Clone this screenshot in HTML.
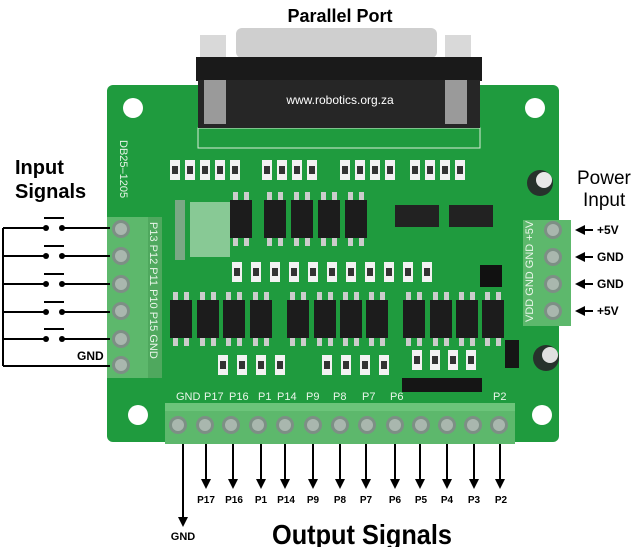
<!DOCTYPE html>
<html><head><meta charset="utf-8"><style>
html,body{margin:0;padding:0;background:#fff;}
svg{display:block;font-family:"Liberation Sans",Arial,sans-serif;}
</style></head><body>
<svg width="640" height="547" viewBox="0 0 640 547" xmlns="http://www.w3.org/2000/svg">
<defs>
<marker id="ah" markerWidth="10" markerHeight="10" refX="5" refY="5" orient="auto" markerUnits="userSpaceOnUse"><path d="M0,0 L10,5 L0,10 z" fill="#000"/></marker>
<g id="chip"><rect x="0" y="0" width="22" height="38" fill="#1c1c1c"/><rect x="3" y="-8" width="5" height="8" fill="#ccc"/><rect x="14" y="-8" width="5" height="8" fill="#ccc"/><rect x="3" y="38" width="5" height="8" fill="#ccc"/><rect x="14" y="38" width="5" height="8" fill="#ccc"/></g>
<g id="res"><rect x="0" y="0" width="10" height="20" fill="#f2f2f2"/><rect x="2" y="6" width="6" height="8" fill="#333"/></g>
<g id="scr"><circle r="9" fill="#7d8f85"/><circle r="6" fill="#a9b7ae"/></g>
</defs>

<text x="340" y="22" font-size="18" font-weight="bold" text-anchor="middle">Parallel Port</text>

<rect x="107" y="85" width="452" height="357" rx="6" fill="#1f9b3e"/>
<circle cx="133" cy="108" r="10" fill="#fff"/><circle cx="535" cy="108" r="10" fill="#fff"/>
<circle cx="138" cy="415" r="10" fill="#fff"/><circle cx="542" cy="415" r="10" fill="#fff"/>
<rect x="198" y="128" width="282" height="20" fill="none" stroke="#d8eed8" stroke-width="1"/>
<text x="120" y="140" font-size="11" fill="#e8f4e8" transform="rotate(90 120 140)">DB25–1205</text>

<rect x="236" y="28" width="201" height="30" rx="6" fill="#cfcfcf"/>
<rect x="200" y="35" width="26" height="22" fill="#d9d9d9"/><rect x="445" y="35" width="26" height="22" fill="#d9d9d9"/>
<rect x="196" y="57" width="286" height="24" fill="#1a1a1a"/>
<rect x="198" y="80" width="282" height="48" fill="#262626"/>
<rect x="204" y="80" width="22" height="44" fill="#9a9a9a"/><rect x="445" y="80" width="22" height="44" fill="#9a9a9a"/>
<text x="340" y="104" font-size="12" fill="#fff" text-anchor="middle">www.robotics.org.za</text>

<g>
<use href="#res" x="170" y="160"/><use href="#res" x="185" y="160"/><use href="#res" x="200" y="160"/><use href="#res" x="215" y="160"/><use href="#res" x="230" y="160"/>
<use href="#res" x="262" y="160"/><use href="#res" x="277" y="160"/><use href="#res" x="292" y="160"/><use href="#res" x="307" y="160"/>
<use href="#res" x="340" y="160"/><use href="#res" x="355" y="160"/><use href="#res" x="370" y="160"/><use href="#res" x="385" y="160"/>
<use href="#res" x="410" y="160"/><use href="#res" x="425" y="160"/><use href="#res" x="440" y="160"/><use href="#res" x="455" y="160"/>
<use href="#res" x="232" y="262"/><use href="#res" x="251" y="262"/><use href="#res" x="270" y="262"/><use href="#res" x="289" y="262"/><use href="#res" x="308" y="262"/><use href="#res" x="327" y="262"/><use href="#res" x="346" y="262"/><use href="#res" x="365" y="262"/><use href="#res" x="384" y="262"/><use href="#res" x="403" y="262"/><use href="#res" x="422" y="262"/>
<use href="#res" x="218" y="355"/><use href="#res" x="237" y="355"/><use href="#res" x="256" y="355"/><use href="#res" x="275" y="355"/>
<use href="#res" x="322" y="355"/><use href="#res" x="341" y="355"/><use href="#res" x="360" y="355"/><use href="#res" x="379" y="355"/>
<use href="#res" x="412" y="350"/><use href="#res" x="430" y="350"/><use href="#res" x="448" y="350"/><use href="#res" x="466" y="350"/>
</g>
<rect x="175" y="200" width="10" height="60" fill="#7aa884"/>
<rect x="190" y="202" width="40" height="55" fill="#cfe8d0" opacity="0.6"/>

<use href="#chip" x="230" y="200"/><use href="#chip" x="264" y="200"/><use href="#chip" x="291" y="200"/><use href="#chip" x="318" y="200"/><use href="#chip" x="345" y="200"/>
<rect x="395" y="205" width="44" height="22" fill="#222"/><rect x="449" y="205" width="44" height="22" fill="#222"/>
<use href="#chip" x="170" y="300"/><use href="#chip" x="197" y="300"/><use href="#chip" x="223" y="300"/><use href="#chip" x="250" y="300"/>
<use href="#chip" x="287" y="300"/><use href="#chip" x="314" y="300"/><use href="#chip" x="340" y="300"/><use href="#chip" x="366" y="300"/>
<use href="#chip" x="403" y="300"/><use href="#chip" x="430" y="300"/><use href="#chip" x="456" y="300"/><use href="#chip" x="482" y="300"/>
<rect x="480" y="265" width="22" height="22" fill="#111"/>
<rect x="402" y="378" width="80" height="14" fill="#151515"/>
<rect x="505" y="340" width="14" height="28" fill="#151515"/>
<circle cx="540" cy="183" r="13" fill="#27322c"/><circle cx="544" cy="180" r="8" fill="#e8e8e8"/>
<circle cx="546" cy="358" r="13" fill="#27322c"/><circle cx="550" cy="355" r="8" fill="#e0e0e0"/>

<rect x="107" y="217" width="55" height="161" fill="#5db86c"/>
<rect x="148" y="217" width="14" height="161" fill="#4fa85e"/>
<use href="#scr" x="121" y="229"/><use href="#scr" x="121" y="256"/><use href="#scr" x="121" y="284"/><use href="#scr" x="121" y="311"/><use href="#scr" x="121" y="339"/><use href="#scr" x="121" y="365"/>
<text transform="translate(150,222) rotate(90)" font-size="11" fill="#eaf6ea">P13 P12 P11 P10 P15 GND</text>

<rect x="523" y="220" width="48" height="106" fill="#5db86c"/>
<use href="#scr" x="553" y="230"/><use href="#scr" x="553" y="257"/><use href="#scr" x="553" y="284"/><use href="#scr" x="553" y="311"/>
<text transform="translate(533,322) rotate(-90)" font-size="11" fill="#eaf6ea">VDD GND GND +5V</text>

<rect x="165" y="403" width="350" height="41" fill="#5db86c"/>
<rect x="165" y="403" width="350" height="8" fill="#6cc47a"/>
<use href="#scr" x="178" y="425"/><use href="#scr" x="205" y="425"/><use href="#scr" x="231" y="425"/><use href="#scr" x="258" y="425"/><use href="#scr" x="285" y="425"/><use href="#scr" x="313" y="425"/><use href="#scr" x="340" y="425"/><use href="#scr" x="367" y="425"/><use href="#scr" x="395" y="425"/><use href="#scr" x="421" y="425"/><use href="#scr" x="447" y="425"/><use href="#scr" x="473" y="425"/><use href="#scr" x="499" y="425"/>
<g font-size="11" fill="#eaf6ea"><text x="176" y="400">GND</text><text x="204" y="400">P17</text><text x="229" y="400">P16</text><text x="258" y="400">P1</text><text x="277" y="400">P14</text><text x="306" y="400">P9</text><text x="333" y="400">P8</text><text x="362" y="400">P7</text><text x="390" y="400">P6</text><text x="493" y="400">P2</text></g>

<text x="15" y="174" font-size="20" font-weight="bold">Input</text>
<text x="15" y="198" font-size="20" font-weight="bold">Signals</text>
<g stroke="#000" stroke-width="2" fill="none">
<path d="M3,228 V366"/>
<path d="M3,228 H46 M62,228 H110 M44,218 H64"/>
<path d="M3,256 H46 M62,256 H110 M44,246 H64"/>
<path d="M3,284 H46 M62,284 H110 M44,274 H64"/>
<path d="M3,312 H46 M62,312 H110 M44,302 H64"/>
<path d="M3,339 H46 M62,339 H110 M44,329 H64"/>
<path d="M3,366 H110"/>
</g>
<g fill="#000"><circle cx="46" cy="228" r="3"/><circle cx="62" cy="228" r="3"/><circle cx="46" cy="256" r="3"/><circle cx="62" cy="256" r="3"/><circle cx="46" cy="284" r="3"/><circle cx="62" cy="284" r="3"/><circle cx="46" cy="312" r="3"/><circle cx="62" cy="312" r="3"/><circle cx="46" cy="339" r="3"/><circle cx="62" cy="339" r="3"/></g>
<text x="77" y="360" font-size="12" font-weight="bold">GND</text>

<text x="577" y="184" font-size="19">Power</text>
<text x="583" y="206" font-size="19">Input</text>
<g stroke="#000" stroke-width="2"><path d="M593,230 H580" marker-end="url(#ah)"/><path d="M593,257 H580" marker-end="url(#ah)"/><path d="M593,284 H580" marker-end="url(#ah)"/><path d="M593,311 H580" marker-end="url(#ah)"/></g>
<g font-size="12" font-weight="bold"><text x="597" y="234">+5V</text><text x="597" y="261">GND</text><text x="597" y="288">GND</text><text x="597" y="315">+5V</text></g>

<g stroke="#000" stroke-width="2">
<path d="M183,444 V522" marker-end="url(#ah)"/>
<path d="M206,444 V484" marker-end="url(#ah)"/><path d="M233,444 V484" marker-end="url(#ah)"/><path d="M261,444 V484" marker-end="url(#ah)"/><path d="M285,444 V484" marker-end="url(#ah)"/><path d="M313,444 V484" marker-end="url(#ah)"/><path d="M340,444 V484" marker-end="url(#ah)"/><path d="M366,444 V484" marker-end="url(#ah)"/><path d="M395,444 V484" marker-end="url(#ah)"/><path d="M420,444 V484" marker-end="url(#ah)"/><path d="M447,444 V484" marker-end="url(#ah)"/><path d="M474,444 V484" marker-end="url(#ah)"/><path d="M500,444 V484" marker-end="url(#ah)"/>
</g>
<g font-size="10" font-weight="bold" text-anchor="middle"><text x="206" y="503">P17</text><text x="234" y="503">P16</text><text x="261" y="503">P1</text><text x="286" y="503">P14</text><text x="313" y="503">P9</text><text x="340" y="503">P8</text><text x="366" y="503">P7</text><text x="395" y="503">P6</text><text x="421" y="503">P5</text><text x="447" y="503">P4</text><text x="474" y="503">P3</text><text x="501" y="503">P2</text></g>
<text x="183" y="540" font-size="11" font-weight="bold" text-anchor="middle">GND</text>
<text x="272" y="544" font-size="28" font-weight="bold" textLength="180" lengthAdjust="spacingAndGlyphs">Output Signals</text>
</svg>
</body></html>
